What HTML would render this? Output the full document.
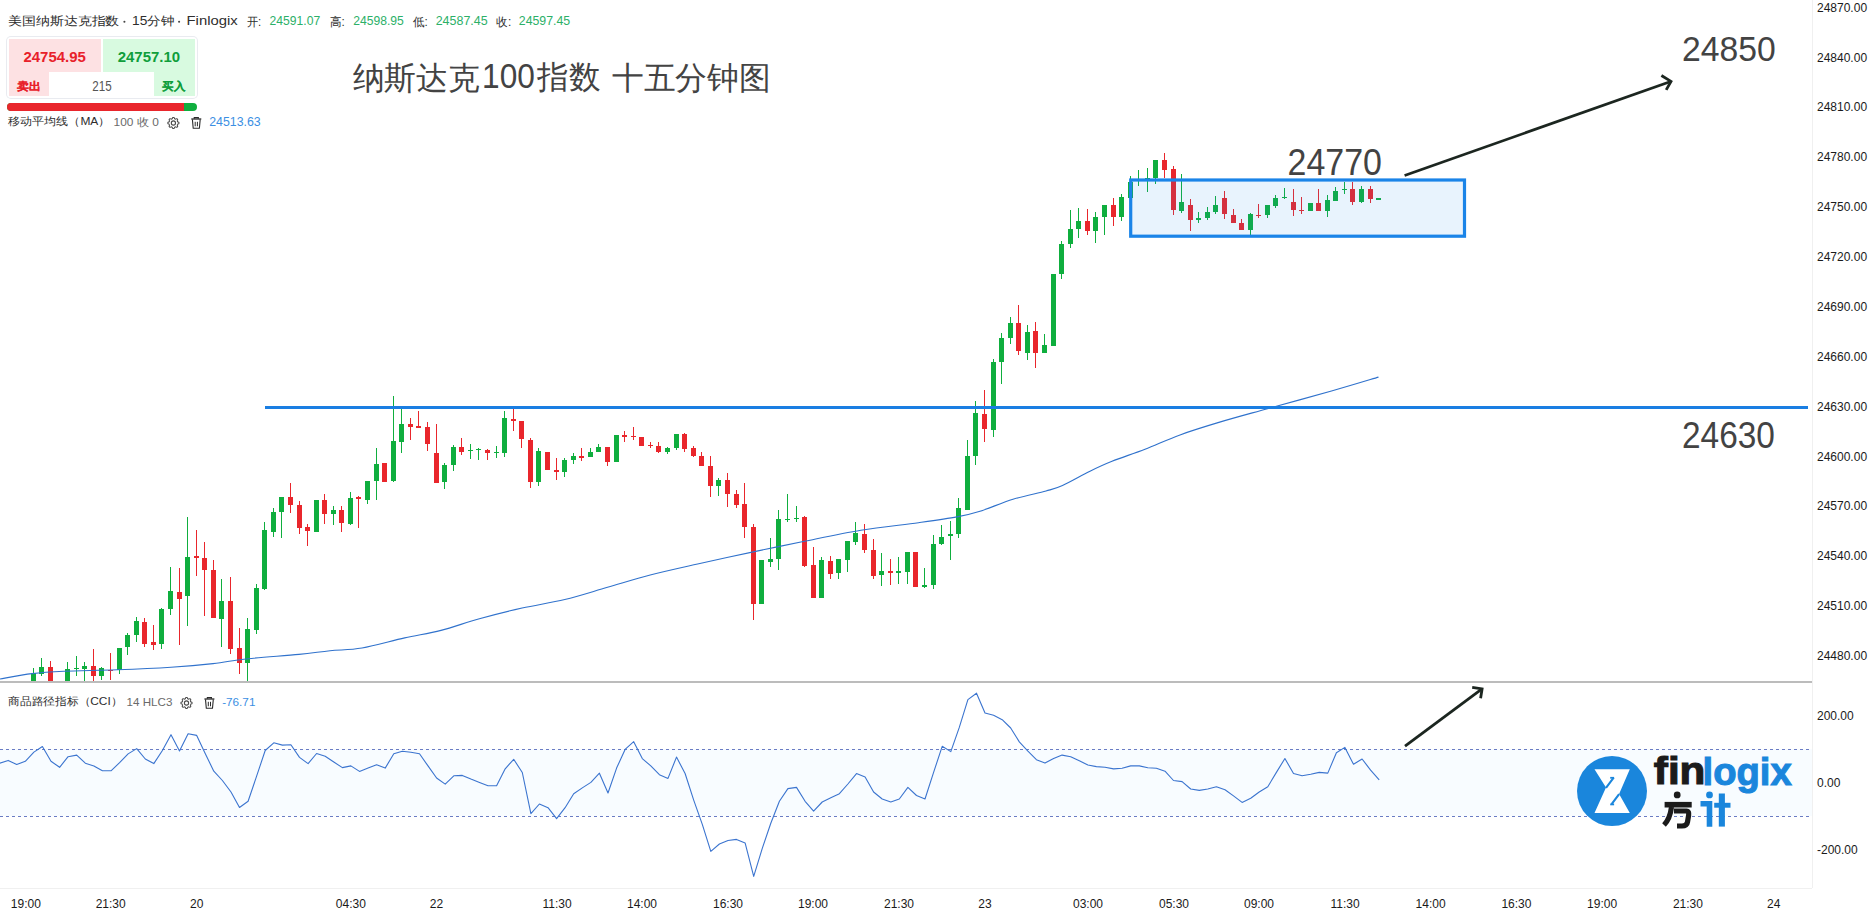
<!DOCTYPE html>
<html><head><meta charset="utf-8">
<style>
html,body{margin:0;padding:0;background:#fff;}
body{width:1874px;height:909px;overflow:hidden;position:relative;font-family:"Liberation Sans",sans-serif;color:#131722;}
svg{position:absolute;left:0;top:0;font-family:"Liberation Sans",sans-serif;}
.pl{position:absolute;left:1817px;font-size:12px;line-height:14px;color:#1a1a1a;}
.tl{position:absolute;top:897px;width:80px;text-align:center;font-size:12px;line-height:14px;color:#1a1a1a;}
.w{position:absolute;left:7px;top:37px;width:190px;height:61px;border-radius:4px;box-shadow:0 0 0 1px #e9ebf0;background:#fff;}
.wr{position:absolute;left:2px;top:2px;width:92px;height:57px;background:#fde1e3;}
.wg{position:absolute;left:96px;top:2px;width:92px;height:57px;background:#d8fae0;}
.wi{position:absolute;left:42px;top:35px;width:105px;height:25px;background:#fff;}
.bar{position:absolute;left:7px;top:103px;width:190px;height:8px;border-radius:4px;background:#0fae3e;overflow:hidden;}
.bar div{position:absolute;left:0;top:0;width:177px;height:8px;background:#e9262c;}
</style></head><body>
<svg id="ch" width="1874" height="909"><defs><clipPath id="mp"><rect x="0" y="0" width="1812" height="681"/></clipPath><clipPath id="cp"><rect x="0" y="683" width="1812" height="205"/></clipPath></defs><g clip-path="url(#mp)"><rect x="33" y="668" width="1" height="14" fill="#0fae3e"/><rect x="31" y="673" width="5" height="9" fill="#0fae3e"/><rect x="41" y="658" width="1" height="18" fill="#0fae3e"/><rect x="39" y="667" width="5" height="7" fill="#0fae3e"/><rect x="50" y="661" width="1" height="21" fill="#e9262c"/><rect x="48" y="667" width="5" height="15" fill="#e9262c"/><rect x="67" y="662" width="1" height="20" fill="#0fae3e"/><rect x="65" y="669" width="5" height="13" fill="#0fae3e"/><rect x="76" y="656" width="1" height="20" fill="#0fae3e"/><rect x="74" y="668" width="5" height="1" fill="#0fae3e"/><rect x="84" y="662" width="1" height="20" fill="#0fae3e"/><rect x="82" y="666" width="5" height="3" fill="#0fae3e"/><rect x="93" y="649" width="1" height="32" fill="#e9262c"/><rect x="91" y="666" width="5" height="10" fill="#e9262c"/><rect x="101" y="667" width="1" height="13" fill="#0fae3e"/><rect x="99" y="668" width="5" height="8" fill="#0fae3e"/><rect x="110" y="653" width="1" height="27" fill="#e9262c"/><rect x="108" y="670" width="5" height="1" fill="#e9262c"/><rect x="119" y="648" width="1" height="26" fill="#0fae3e"/><rect x="117" y="648" width="5" height="22" fill="#0fae3e"/><rect x="127" y="633" width="1" height="22" fill="#0fae3e"/><rect x="125" y="635" width="5" height="12" fill="#0fae3e"/><rect x="136" y="617" width="1" height="25" fill="#0fae3e"/><rect x="134" y="621" width="5" height="14" fill="#0fae3e"/><rect x="144" y="618" width="1" height="29" fill="#e9262c"/><rect x="142" y="622" width="5" height="22" fill="#e9262c"/><rect x="153" y="625" width="1" height="25" fill="#e9262c"/><rect x="151" y="642" width="5" height="3" fill="#e9262c"/><rect x="161" y="608" width="1" height="41" fill="#0fae3e"/><rect x="159" y="609" width="5" height="35" fill="#0fae3e"/><rect x="170" y="567" width="1" height="48" fill="#0fae3e"/><rect x="168" y="591" width="5" height="18" fill="#0fae3e"/><rect x="179" y="568" width="1" height="77" fill="#e9262c"/><rect x="177" y="592" width="5" height="7" fill="#e9262c"/><rect x="187" y="517" width="1" height="109" fill="#0fae3e"/><rect x="185" y="557" width="5" height="39" fill="#0fae3e"/><rect x="196" y="530" width="1" height="46" fill="#e9262c"/><rect x="194" y="556" width="5" height="2" fill="#e9262c"/><rect x="204" y="542" width="1" height="74" fill="#e9262c"/><rect x="202" y="558" width="5" height="12" fill="#e9262c"/><rect x="213" y="560" width="1" height="58" fill="#e9262c"/><rect x="211" y="570" width="5" height="48" fill="#e9262c"/><rect x="221" y="579" width="1" height="68" fill="#0fae3e"/><rect x="219" y="601" width="5" height="18" fill="#0fae3e"/><rect x="230" y="577" width="1" height="77" fill="#e9262c"/><rect x="228" y="601" width="5" height="48" fill="#e9262c"/><rect x="239" y="628" width="1" height="46" fill="#e9262c"/><rect x="237" y="648" width="5" height="15" fill="#e9262c"/><rect x="247" y="618" width="1" height="64" fill="#0fae3e"/><rect x="245" y="629" width="5" height="34" fill="#0fae3e"/><rect x="256" y="584" width="1" height="50" fill="#0fae3e"/><rect x="254" y="588" width="5" height="42" fill="#0fae3e"/><rect x="264" y="522" width="1" height="68" fill="#0fae3e"/><rect x="262" y="530" width="5" height="59" fill="#0fae3e"/><rect x="273" y="508" width="1" height="29" fill="#0fae3e"/><rect x="271" y="512" width="5" height="20" fill="#0fae3e"/><rect x="281" y="497" width="1" height="41" fill="#0fae3e"/><rect x="279" y="497" width="5" height="15" fill="#0fae3e"/><rect x="290" y="483" width="1" height="30" fill="#e9262c"/><rect x="288" y="497" width="5" height="8" fill="#e9262c"/><rect x="299" y="501" width="1" height="33" fill="#e9262c"/><rect x="297" y="505" width="5" height="23" fill="#e9262c"/><rect x="307" y="524" width="1" height="22" fill="#e9262c"/><rect x="305" y="527" width="5" height="4" fill="#e9262c"/><rect x="316" y="500" width="1" height="32" fill="#0fae3e"/><rect x="314" y="500" width="5" height="32" fill="#0fae3e"/><rect x="324" y="494" width="1" height="30" fill="#e9262c"/><rect x="322" y="500" width="5" height="14" fill="#e9262c"/><rect x="333" y="506" width="1" height="19" fill="#0fae3e"/><rect x="331" y="510" width="5" height="4" fill="#0fae3e"/><rect x="341" y="506" width="1" height="26" fill="#e9262c"/><rect x="339" y="510" width="5" height="13" fill="#e9262c"/><rect x="350" y="492" width="1" height="33" fill="#0fae3e"/><rect x="348" y="498" width="5" height="26" fill="#0fae3e"/><rect x="358" y="496" width="1" height="32" fill="#e9262c"/><rect x="356" y="497" width="5" height="2" fill="#e9262c"/><rect x="367" y="481" width="1" height="23" fill="#0fae3e"/><rect x="365" y="481" width="5" height="19" fill="#0fae3e"/><rect x="376" y="448" width="1" height="52" fill="#0fae3e"/><rect x="374" y="464" width="5" height="17" fill="#0fae3e"/><rect x="384" y="463" width="1" height="19" fill="#e9262c"/><rect x="382" y="463" width="5" height="19" fill="#e9262c"/><rect x="393" y="396" width="1" height="86" fill="#0fae3e"/><rect x="391" y="441" width="5" height="40" fill="#0fae3e"/><rect x="401" y="408" width="1" height="45" fill="#0fae3e"/><rect x="399" y="424" width="5" height="18" fill="#0fae3e"/><rect x="410" y="418" width="1" height="22" fill="#e9262c"/><rect x="408" y="424" width="5" height="3" fill="#e9262c"/><rect x="418" y="411" width="1" height="17" fill="#e9262c"/><rect x="416" y="426" width="5" height="2" fill="#e9262c"/><rect x="427" y="422" width="1" height="29" fill="#e9262c"/><rect x="425" y="427" width="5" height="17" fill="#e9262c"/><rect x="436" y="424" width="1" height="59" fill="#e9262c"/><rect x="434" y="453" width="5" height="30" fill="#e9262c"/><rect x="444" y="463" width="1" height="26" fill="#0fae3e"/><rect x="442" y="465" width="5" height="17" fill="#0fae3e"/><rect x="453" y="445" width="1" height="26" fill="#0fae3e"/><rect x="451" y="447" width="5" height="18" fill="#0fae3e"/><rect x="461" y="438" width="1" height="17" fill="#e9262c"/><rect x="459" y="447" width="5" height="5" fill="#e9262c"/><rect x="470" y="444" width="1" height="15" fill="#0fae3e"/><rect x="468" y="450" width="5" height="1" fill="#0fae3e"/><rect x="478" y="448" width="1" height="12" fill="#0fae3e"/><rect x="476" y="449" width="5" height="1" fill="#0fae3e"/><rect x="487" y="449" width="1" height="11" fill="#e9262c"/><rect x="485" y="450" width="5" height="3" fill="#e9262c"/><rect x="496" y="446" width="1" height="12" fill="#0fae3e"/><rect x="494" y="452" width="5" height="1" fill="#0fae3e"/><rect x="504" y="411" width="1" height="46" fill="#0fae3e"/><rect x="502" y="418" width="5" height="35" fill="#0fae3e"/><rect x="513" y="408" width="1" height="23" fill="#e9262c"/><rect x="511" y="419" width="5" height="2" fill="#e9262c"/><rect x="521" y="421" width="1" height="27" fill="#e9262c"/><rect x="519" y="421" width="5" height="18" fill="#e9262c"/><rect x="530" y="438" width="1" height="50" fill="#e9262c"/><rect x="528" y="440" width="5" height="42" fill="#e9262c"/><rect x="538" y="448" width="1" height="38" fill="#0fae3e"/><rect x="536" y="451" width="5" height="31" fill="#0fae3e"/><rect x="547" y="452" width="1" height="18" fill="#e9262c"/><rect x="545" y="452" width="5" height="18" fill="#e9262c"/><rect x="556" y="458" width="1" height="22" fill="#e9262c"/><rect x="554" y="470" width="5" height="2" fill="#e9262c"/><rect x="564" y="458" width="1" height="19" fill="#0fae3e"/><rect x="562" y="460" width="5" height="12" fill="#0fae3e"/><rect x="573" y="453" width="1" height="11" fill="#0fae3e"/><rect x="571" y="456" width="5" height="4" fill="#0fae3e"/><rect x="581" y="448" width="1" height="13" fill="#e9262c"/><rect x="579" y="456" width="5" height="2" fill="#e9262c"/><rect x="590" y="448" width="1" height="9" fill="#0fae3e"/><rect x="588" y="452" width="5" height="5" fill="#0fae3e"/><rect x="598" y="444" width="1" height="8" fill="#0fae3e"/><rect x="596" y="447" width="5" height="5" fill="#0fae3e"/><rect x="607" y="447" width="1" height="19" fill="#e9262c"/><rect x="605" y="447" width="5" height="15" fill="#e9262c"/><rect x="616" y="435" width="1" height="27" fill="#0fae3e"/><rect x="614" y="435" width="5" height="27" fill="#0fae3e"/><rect x="624" y="431" width="1" height="11" fill="#e9262c"/><rect x="622" y="435" width="5" height="2" fill="#e9262c"/><rect x="633" y="427" width="1" height="13" fill="#e9262c"/><rect x="631" y="436" width="5" height="1" fill="#e9262c"/><rect x="641" y="437" width="1" height="9" fill="#e9262c"/><rect x="639" y="437" width="5" height="9" fill="#e9262c"/><rect x="650" y="442" width="1" height="6" fill="#e9262c"/><rect x="648" y="445" width="5" height="1" fill="#e9262c"/><rect x="658" y="442" width="1" height="11" fill="#e9262c"/><rect x="656" y="446" width="5" height="6" fill="#e9262c"/><rect x="667" y="447" width="1" height="7" fill="#0fae3e"/><rect x="665" y="448" width="5" height="4" fill="#0fae3e"/><rect x="676" y="434" width="1" height="16" fill="#0fae3e"/><rect x="674" y="434" width="5" height="14" fill="#0fae3e"/><rect x="684" y="433" width="1" height="19" fill="#e9262c"/><rect x="682" y="434" width="5" height="15" fill="#e9262c"/><rect x="693" y="446" width="1" height="11" fill="#e9262c"/><rect x="691" y="448" width="5" height="8" fill="#e9262c"/><rect x="701" y="452" width="1" height="14" fill="#e9262c"/><rect x="699" y="456" width="5" height="10" fill="#e9262c"/><rect x="710" y="456" width="1" height="41" fill="#e9262c"/><rect x="708" y="466" width="5" height="20" fill="#e9262c"/><rect x="718" y="478" width="1" height="18" fill="#0fae3e"/><rect x="716" y="480" width="5" height="6" fill="#0fae3e"/><rect x="727" y="473" width="1" height="34" fill="#e9262c"/><rect x="725" y="480" width="5" height="14" fill="#e9262c"/><rect x="736" y="490" width="1" height="18" fill="#e9262c"/><rect x="734" y="494" width="5" height="11" fill="#e9262c"/><rect x="744" y="483" width="1" height="55" fill="#e9262c"/><rect x="742" y="504" width="5" height="23" fill="#e9262c"/><rect x="753" y="524" width="1" height="96" fill="#e9262c"/><rect x="751" y="527" width="5" height="77" fill="#e9262c"/><rect x="761" y="560" width="1" height="44" fill="#0fae3e"/><rect x="759" y="560" width="5" height="44" fill="#0fae3e"/><rect x="770" y="538" width="1" height="29" fill="#0fae3e"/><rect x="768" y="559" width="5" height="3" fill="#0fae3e"/><rect x="778" y="510" width="1" height="60" fill="#0fae3e"/><rect x="776" y="519" width="5" height="40" fill="#0fae3e"/><rect x="787" y="494" width="1" height="28" fill="#0fae3e"/><rect x="785" y="519" width="5" height="1" fill="#0fae3e"/><rect x="796" y="506" width="1" height="16" fill="#0fae3e"/><rect x="794" y="518" width="5" height="1" fill="#0fae3e"/><rect x="804" y="516" width="1" height="51" fill="#e9262c"/><rect x="802" y="517" width="5" height="49" fill="#e9262c"/><rect x="813" y="547" width="1" height="51" fill="#e9262c"/><rect x="811" y="565" width="5" height="33" fill="#e9262c"/><rect x="821" y="557" width="1" height="41" fill="#0fae3e"/><rect x="819" y="560" width="5" height="38" fill="#0fae3e"/><rect x="830" y="556" width="1" height="23" fill="#e9262c"/><rect x="828" y="561" width="5" height="13" fill="#e9262c"/><rect x="838" y="559" width="1" height="20" fill="#0fae3e"/><rect x="836" y="559" width="5" height="14" fill="#0fae3e"/><rect x="847" y="541" width="1" height="31" fill="#0fae3e"/><rect x="845" y="541" width="5" height="19" fill="#0fae3e"/><rect x="855" y="522" width="1" height="23" fill="#0fae3e"/><rect x="853" y="533" width="5" height="9" fill="#0fae3e"/><rect x="864" y="524" width="1" height="29" fill="#e9262c"/><rect x="862" y="534" width="5" height="16" fill="#e9262c"/><rect x="873" y="539" width="1" height="40" fill="#e9262c"/><rect x="871" y="550" width="5" height="26" fill="#e9262c"/><rect x="881" y="553" width="1" height="33" fill="#0fae3e"/><rect x="879" y="571" width="5" height="4" fill="#0fae3e"/><rect x="890" y="559" width="1" height="26" fill="#e9262c"/><rect x="888" y="571" width="5" height="2" fill="#e9262c"/><rect x="898" y="557" width="1" height="27" fill="#0fae3e"/><rect x="896" y="571" width="5" height="2" fill="#0fae3e"/><rect x="907" y="552" width="1" height="32" fill="#0fae3e"/><rect x="905" y="552" width="5" height="20" fill="#0fae3e"/><rect x="915" y="552" width="1" height="35" fill="#e9262c"/><rect x="913" y="552" width="5" height="35" fill="#e9262c"/><rect x="924" y="568" width="1" height="20" fill="#0fae3e"/><rect x="922" y="585" width="5" height="2" fill="#0fae3e"/><rect x="933" y="535" width="1" height="54" fill="#0fae3e"/><rect x="931" y="544" width="5" height="41" fill="#0fae3e"/><rect x="941" y="525" width="1" height="20" fill="#0fae3e"/><rect x="939" y="537" width="5" height="7" fill="#0fae3e"/><rect x="950" y="521" width="1" height="39" fill="#0fae3e"/><rect x="948" y="534" width="5" height="2" fill="#0fae3e"/><rect x="958" y="498" width="1" height="40" fill="#0fae3e"/><rect x="956" y="508" width="5" height="26" fill="#0fae3e"/><rect x="967" y="440" width="1" height="70" fill="#0fae3e"/><rect x="965" y="456" width="5" height="54" fill="#0fae3e"/><rect x="975" y="401" width="1" height="64" fill="#0fae3e"/><rect x="973" y="413" width="5" height="43" fill="#0fae3e"/><rect x="984" y="390" width="1" height="52" fill="#e9262c"/><rect x="982" y="414" width="5" height="15" fill="#e9262c"/><rect x="993" y="359" width="1" height="78" fill="#0fae3e"/><rect x="991" y="362" width="5" height="68" fill="#0fae3e"/><rect x="1001" y="333" width="1" height="51" fill="#0fae3e"/><rect x="999" y="338" width="5" height="24" fill="#0fae3e"/><rect x="1010" y="317" width="1" height="27" fill="#0fae3e"/><rect x="1008" y="323" width="5" height="15" fill="#0fae3e"/><rect x="1018" y="305" width="1" height="50" fill="#e9262c"/><rect x="1016" y="323" width="5" height="28" fill="#e9262c"/><rect x="1027" y="325" width="1" height="35" fill="#0fae3e"/><rect x="1025" y="332" width="5" height="21" fill="#0fae3e"/><rect x="1035" y="322" width="1" height="46" fill="#e9262c"/><rect x="1033" y="331" width="5" height="22" fill="#e9262c"/><rect x="1044" y="334" width="1" height="19" fill="#0fae3e"/><rect x="1042" y="345" width="5" height="8" fill="#0fae3e"/><rect x="1053" y="274" width="1" height="72" fill="#0fae3e"/><rect x="1051" y="274" width="5" height="72" fill="#0fae3e"/><rect x="1061" y="241" width="1" height="38" fill="#0fae3e"/><rect x="1059" y="244" width="5" height="30" fill="#0fae3e"/><rect x="1070" y="210" width="1" height="38" fill="#0fae3e"/><rect x="1068" y="229" width="5" height="15" fill="#0fae3e"/><rect x="1078" y="208" width="1" height="30" fill="#0fae3e"/><rect x="1076" y="221" width="5" height="8" fill="#0fae3e"/><rect x="1087" y="209" width="1" height="26" fill="#e9262c"/><rect x="1085" y="221" width="5" height="10" fill="#e9262c"/><rect x="1095" y="212" width="1" height="31" fill="#0fae3e"/><rect x="1093" y="217" width="5" height="14" fill="#0fae3e"/><rect x="1104" y="205" width="1" height="30" fill="#0fae3e"/><rect x="1102" y="205" width="5" height="12" fill="#0fae3e"/><rect x="1113" y="198" width="1" height="28" fill="#e9262c"/><rect x="1111" y="205" width="5" height="12" fill="#e9262c"/><rect x="1121" y="194" width="1" height="27" fill="#0fae3e"/><rect x="1119" y="197" width="5" height="20" fill="#0fae3e"/><rect x="1130" y="176" width="1" height="22" fill="#0fae3e"/><rect x="1128" y="182" width="5" height="16" fill="#0fae3e"/><rect x="1138" y="170" width="1" height="16" fill="#0fae3e"/><rect x="1136" y="179" width="5" height="2" fill="#0fae3e"/><rect x="1147" y="168" width="1" height="24" fill="#0fae3e"/><rect x="1145" y="178" width="5" height="1" fill="#0fae3e"/><rect x="1155" y="160" width="1" height="24" fill="#0fae3e"/><rect x="1153" y="160" width="5" height="18" fill="#0fae3e"/><rect x="1164" y="153" width="1" height="25" fill="#e9262c"/><rect x="1162" y="160" width="5" height="10" fill="#e9262c"/><rect x="1173" y="166" width="1" height="49" fill="#e9262c"/><rect x="1171" y="169" width="5" height="41" fill="#e9262c"/><rect x="1181" y="174" width="1" height="39" fill="#0fae3e"/><rect x="1179" y="202" width="5" height="9" fill="#0fae3e"/><rect x="1190" y="199" width="1" height="32" fill="#e9262c"/><rect x="1188" y="205" width="5" height="15" fill="#e9262c"/><rect x="1198" y="212" width="1" height="11" fill="#0fae3e"/><rect x="1196" y="218" width="5" height="2" fill="#0fae3e"/><rect x="1207" y="207" width="1" height="13" fill="#0fae3e"/><rect x="1205" y="212" width="5" height="6" fill="#0fae3e"/><rect x="1215" y="196" width="1" height="18" fill="#0fae3e"/><rect x="1213" y="205" width="5" height="7" fill="#0fae3e"/><rect x="1224" y="191" width="1" height="28" fill="#e9262c"/><rect x="1222" y="198" width="5" height="16" fill="#e9262c"/><rect x="1233" y="209" width="1" height="14" fill="#e9262c"/><rect x="1231" y="215" width="5" height="8" fill="#e9262c"/><rect x="1241" y="219" width="1" height="11" fill="#e9262c"/><rect x="1239" y="223" width="5" height="7" fill="#e9262c"/><rect x="1250" y="213" width="1" height="22" fill="#0fae3e"/><rect x="1248" y="214" width="5" height="16" fill="#0fae3e"/><rect x="1258" y="204" width="1" height="14" fill="#e9262c"/><rect x="1256" y="215" width="5" height="1" fill="#e9262c"/><rect x="1267" y="205" width="1" height="13" fill="#0fae3e"/><rect x="1265" y="205" width="5" height="10" fill="#0fae3e"/><rect x="1275" y="195" width="1" height="13" fill="#0fae3e"/><rect x="1273" y="198" width="5" height="8" fill="#0fae3e"/><rect x="1284" y="188" width="1" height="11" fill="#0fae3e"/><rect x="1282" y="197" width="5" height="1" fill="#0fae3e"/><rect x="1293" y="189" width="1" height="27" fill="#e9262c"/><rect x="1291" y="202" width="5" height="8" fill="#e9262c"/><rect x="1301" y="197" width="1" height="17" fill="#e9262c"/><rect x="1299" y="210" width="5" height="1" fill="#e9262c"/><rect x="1310" y="203" width="1" height="8" fill="#0fae3e"/><rect x="1308" y="203" width="5" height="8" fill="#0fae3e"/><rect x="1318" y="189" width="1" height="22" fill="#e9262c"/><rect x="1316" y="203" width="5" height="8" fill="#e9262c"/><rect x="1327" y="195" width="1" height="22" fill="#0fae3e"/><rect x="1325" y="200" width="5" height="11" fill="#0fae3e"/><rect x="1335" y="187" width="1" height="14" fill="#0fae3e"/><rect x="1333" y="191" width="5" height="10" fill="#0fae3e"/><rect x="1344" y="182" width="1" height="12" fill="#0fae3e"/><rect x="1342" y="189" width="5" height="1" fill="#0fae3e"/><rect x="1352" y="182" width="1" height="23" fill="#e9262c"/><rect x="1350" y="189" width="5" height="13" fill="#e9262c"/><rect x="1361" y="186" width="1" height="17" fill="#0fae3e"/><rect x="1359" y="189" width="5" height="13" fill="#0fae3e"/><rect x="1370" y="186" width="1" height="17" fill="#e9262c"/><rect x="1368" y="189" width="5" height="10" fill="#e9262c"/><rect x="1378" y="198" width="1" height="2" fill="#0fae3e"/><rect x="1376" y="198" width="5" height="2" fill="#0fae3e"/><path d="M0.00,679.00 C5.33,678.10 21.33,674.88 32.00,673.60 C42.67,672.32 49.83,671.93 64.00,671.30 C78.17,670.67 99.17,670.48 117.00,669.80 C134.83,669.12 155.00,668.23 171.00,667.20 C187.00,666.17 200.17,665.02 213.00,663.60 C225.83,662.18 233.67,660.23 248.00,658.70 C262.33,657.17 285.33,655.73 299.00,654.40 C312.67,653.07 319.50,651.77 330.00,650.70 C340.50,649.63 349.55,650.13 362.00,648.00 C374.45,645.87 391.53,640.83 404.70,637.90 C417.87,634.97 428.55,633.60 441.00,630.40 C453.45,627.20 465.88,622.43 479.40,618.70 C492.92,614.97 507.87,611.20 522.10,608.00 C536.33,604.80 550.57,602.95 564.80,599.50 C579.03,596.05 593.27,591.38 607.50,587.30 C621.73,583.22 635.18,578.88 650.20,575.00 C665.22,571.12 680.42,567.85 697.60,564.00 C714.78,560.15 735.68,555.65 753.30,551.90 C770.92,548.15 785.37,545.10 803.30,541.50 C821.23,537.90 841.70,533.43 860.90,530.30 C880.10,527.17 902.48,524.93 918.50,522.70 C934.52,520.47 946.75,518.80 957.00,516.90 C967.25,515.00 970.67,514.25 980.00,511.30 C989.33,508.35 1002.00,502.58 1013.00,499.20 C1024.00,495.82 1037.75,493.28 1046.00,491.00 C1054.25,488.72 1055.17,488.80 1062.50,485.50 C1069.83,482.20 1081.75,475.23 1090.00,471.20 C1098.25,467.17 1102.83,464.97 1112.00,461.30 C1121.17,457.63 1133.67,453.60 1145.00,449.20 C1156.33,444.80 1167.42,439.45 1180.00,434.90 C1192.58,430.35 1205.92,426.27 1220.50,421.90 C1235.08,417.53 1249.00,413.85 1267.50,408.70 C1286.00,403.55 1313.00,396.27 1331.50,391.00 C1350.00,385.73 1370.67,379.42 1378.50,377.10" fill="none" stroke="#3072cc" stroke-width="1.1"/></g><rect x="265" y="406" width="1543" height="3" fill="#1a7ee2"/><rect x="1130.7" y="180" width="333.8" height="56.2" fill="rgba(33,140,240,0.10)" stroke="#1a84e8" stroke-width="3.2"/><g stroke="#1c2620" stroke-width="2.8" fill="none" stroke-linecap="butt" stroke-linejoin="miter"><line x1="1404.6" y1="175.5" x2="1670" y2="81.8"/><polyline points="1661.4,75.5 1671,81.4 1666.2,89.9"/><line x1="1405" y1="746.2" x2="1481" y2="689.6"/><polyline points="1472.2,687.3 1482.1,688.8 1480.6,698.2"/></g><rect x="0" y="681" width="1812" height="2" fill="#bcbcbc"/><rect x="1812" y="0" width="1" height="888" fill="#f0f0f0"/><rect x="0" y="888" width="1812" height="1" fill="#f0f0f0"/><rect x="0" y="749" width="1812" height="67" fill="rgba(33,150,243,0.03)"/><line x1="0" y1="749.5" x2="1812" y2="749.5" stroke="#6a7cc4" stroke-width="1" stroke-dasharray="3 3"/><line x1="0" y1="816.5" x2="1812" y2="816.5" stroke="#6a7cc4" stroke-width="1" stroke-dasharray="3 3"/><g clip-path="url(#cp)"><polyline points="-0.4,763.2 8.2,760.4 16.7,764.5 25.3,761.3 33.9,752.1 42.4,746.5 51.0,761.3 59.6,767.3 68.1,756.7 76.7,755.1 85.3,763.2 93.9,765.9 102.4,770.8 111.0,770.8 119.6,762.7 128.1,753.9 136.7,748.6 145.3,759.0 153.8,763.6 162.4,750.5 171.0,734.7 179.5,750.9 188.1,733.8 196.7,735.4 205.2,753.5 213.8,771.2 222.4,780.5 231.0,792.0 239.5,807.5 248.1,801.3 256.7,775.9 265.2,750.5 273.8,742.8 282.4,745.1 290.9,744.7 299.5,757.4 308.1,763.6 316.6,753.5 325.2,756.2 333.8,762.0 342.4,767.6 350.9,765.9 359.5,771.4 368.1,768.1 376.6,764.8 385.2,768.1 393.8,753.8 402.3,751.2 410.9,752.3 419.5,753.8 428.0,765.9 436.6,778.0 445.2,784.1 453.8,775.8 462.3,775.4 470.9,779.1 479.5,782.4 488.0,785.7 496.6,785.7 505.2,768.8 513.7,759.3 522.3,772.5 530.9,813.6 539.4,804.0 548.0,807.7 556.6,818.7 565.1,807.7 573.7,793.8 582.3,787.9 590.9,782.4 599.4,773.2 608.0,793.0 616.6,768.1 625.1,749.4 633.7,741.7 642.3,758.6 650.8,765.9 659.4,774.7 668.0,778.4 676.5,757.1 685.1,773.5 693.7,800.1 702.3,824.4 710.8,851.4 719.4,844.0 728.0,840.5 736.5,839.4 745.1,842.9 753.7,876.4 762.2,848.6 770.8,823.2 779.4,801.3 787.9,788.6 796.5,787.4 805.1,801.3 813.6,811.2 822.2,802.0 830.8,797.8 839.4,793.7 847.9,784.0 856.5,773.6 865.1,777.0 873.6,792.0 882.2,799.0 890.8,802.0 899.3,799.0 907.9,787.4 916.5,795.5 925.0,799.0 933.6,772.4 942.2,746.3 950.8,751.6 959.3,727.4 967.9,699.6 976.5,693.2 985.0,713.0 993.6,715.3 1002.2,719.7 1010.7,728.0 1019.3,741.9 1027.9,751.1 1036.4,759.7 1045.0,763.1 1053.6,758.5 1062.1,755.1 1070.7,756.7 1079.3,760.8 1087.9,765.0 1096.4,766.6 1105.0,767.3 1113.6,768.9 1122.1,768.2 1130.7,765.9 1139.3,765.9 1147.8,767.8 1156.4,768.2 1165.0,771.2 1173.5,780.5 1182.1,781.6 1190.7,789.0 1199.3,790.4 1207.8,789.0 1216.4,786.7 1225.0,789.7 1233.5,795.9 1242.1,802.4 1250.7,798.2 1259.2,792.0 1267.8,786.7 1276.4,772.4 1284.9,758.5 1293.5,773.5 1302.1,775.8 1310.7,774.2 1319.2,772.4 1327.8,773.1 1336.4,752.7 1344.9,747.4 1353.5,764.3 1362.1,759.0 1370.6,770.1 1379.2,779.8" fill="none" stroke="#3b74cf" stroke-width="1.1" stroke-linejoin="round"/></g></svg>
<div class="w"><div class="wr"></div><div class="wg"></div><div class="wi"></div></div>
<div class="bar"><div></div></div>
<div class="pl" style="top:0.7px">24870.00</div><div class="pl" style="top:50.6px">24840.00</div><div class="pl" style="top:100.4px">24810.00</div><div class="pl" style="top:150.3px">24780.00</div><div class="pl" style="top:200.2px">24750.00</div><div class="pl" style="top:250.1px">24720.00</div><div class="pl" style="top:299.9px">24690.00</div><div class="pl" style="top:349.8px">24660.00</div><div class="pl" style="top:399.7px">24630.00</div><div class="pl" style="top:449.5px">24600.00</div><div class="pl" style="top:499.4px">24570.00</div><div class="pl" style="top:549.3px">24540.00</div><div class="pl" style="top:599.1px">24510.00</div><div class="pl" style="top:649.0px">24480.00</div><div class="pl" style="top:709.0px">200.00</div><div class="pl" style="top:776.0px">0.00</div><div class="pl" style="top:843.0px">-200.00</div>
<div class="tl" style="left:-14.2px">19:00</div><div class="tl" style="left:70.7px">21:30</div><div class="tl" style="left:156.7px">20</div><div class="tl" style="left:310.8px">04:30</div><div class="tl" style="left:396.5px">22</div><div class="tl" style="left:517.0px">11:30</div><div class="tl" style="left:602.0px">14:00</div><div class="tl" style="left:688.0px">16:30</div><div class="tl" style="left:773.0px">19:00</div><div class="tl" style="left:859.0px">21:30</div><div class="tl" style="left:945.0px">23</div><div class="tl" style="left:1048.0px">03:00</div><div class="tl" style="left:1134.0px">05:30</div><div class="tl" style="left:1219.0px">09:00</div><div class="tl" style="left:1305.0px">11:30</div><div class="tl" style="left:1390.6px">14:00</div><div class="tl" style="left:1476.4px">16:30</div><div class="tl" style="left:1562.1px">19:00</div><div class="tl" style="left:1647.9px">21:30</div><div class="tl" style="left:1733.7px">24</div>
<svg id="tx" width="1874" height="909"><text x="8.00" y="24.61" font-size="12.19" fill="#2e2e2e" font-weight="normal" textLength="111.41" lengthAdjust="spacingAndGlyphs">美国纳斯达克指数</text><text x="132.00" y="24.61" font-size="12.19" fill="#2e2e2e" font-weight="normal" textLength="42.33" lengthAdjust="spacingAndGlyphs">15分钟</text><text x="186.56" y="25.08" font-size="12.60" fill="#2e2e2e" font-weight="normal" textLength="51.13" lengthAdjust="spacingAndGlyphs">Finlogix</text><text x="246.92" y="26.06" font-size="12.20" fill="#2e2e2e" font-weight="normal" textLength="14.36" lengthAdjust="spacingAndGlyphs">开:</text><text x="269.60" y="25.15" font-size="12.17" fill="#2cb068" font-weight="normal" textLength="50.54" lengthAdjust="spacingAndGlyphs">24591.07</text><text x="330.06" y="25.66" font-size="12.20" fill="#2e2e2e" font-weight="normal" textLength="14.82" lengthAdjust="spacingAndGlyphs">高:</text><text x="353.29" y="25.15" font-size="12.17" fill="#2cb068" font-weight="normal" textLength="50.56" lengthAdjust="spacingAndGlyphs">24598.95</text><text x="413.06" y="25.66" font-size="12.20" fill="#2e2e2e" font-weight="normal" textLength="14.82" lengthAdjust="spacingAndGlyphs">低:</text><text x="435.69" y="25.15" font-size="12.17" fill="#2cb068" font-weight="normal" textLength="51.97" lengthAdjust="spacingAndGlyphs">24587.45</text><text x="496.47" y="25.66" font-size="12.20" fill="#2e2e2e" font-weight="normal" textLength="14.89" lengthAdjust="spacingAndGlyphs">收:</text><text x="518.79" y="25.15" font-size="12.17" fill="#2cb068" font-weight="normal" textLength="51.37" lengthAdjust="spacingAndGlyphs">24597.45</text><text x="23.49" y="62.09" font-size="14.91" fill="#e8202a" font-weight="bold" textLength="62.40" lengthAdjust="spacingAndGlyphs">24754.95</text><text x="117.70" y="62.09" font-size="14.91" fill="#0f9e3b" font-weight="bold" textLength="62.39" lengthAdjust="spacingAndGlyphs">24757.10</text><text x="17.17" y="89.68" font-size="10.60" fill="#e8202a" font-weight="bold" textLength="23.90" lengthAdjust="spacingAndGlyphs" stroke="#e8202a" stroke-width="0.2">卖出</text><text x="92.30" y="90.82" font-size="13.95" fill="#555555" font-weight="normal" textLength="19.37" lengthAdjust="spacingAndGlyphs">215</text><text x="162.15" y="89.68" font-size="10.60" fill="#0f9e3b" font-weight="bold" textLength="22.83" lengthAdjust="spacingAndGlyphs" stroke="#0f9e3b" stroke-width="0.2">买入</text><text x="8.30" y="125.19" font-size="10.94" fill="#2e2e2e" font-weight="normal" textLength="102.02" lengthAdjust="spacingAndGlyphs">移动平均线（MA）</text><text x="113.60" y="125.90" font-size="10.80" fill="#6a6a6a" font-weight="normal" textLength="45.19" lengthAdjust="spacingAndGlyphs">100 收 0</text><text x="209.19" y="126.15" font-size="12.17" fill="#3b8fe3" font-weight="normal" textLength="51.55" lengthAdjust="spacingAndGlyphs">24513.63</text><text x="8.30" y="705.42" font-size="11.19" fill="#2e2e2e" font-weight="normal" textLength="114.13" lengthAdjust="spacingAndGlyphs">商品路径指标（CCI）</text><text x="126.59" y="706.16" font-size="11.10" fill="#6a6a6a" font-weight="normal" textLength="45.81" lengthAdjust="spacingAndGlyphs">14 HLC3</text><text x="222.17" y="706.16" font-size="11.10" fill="#3b8fe3" font-weight="normal" textLength="33.27" lengthAdjust="spacingAndGlyphs">-76.71</text><text x="352.52" y="89.03" font-size="32.20" fill="#434343" font-weight="normal" textLength="127.00" lengthAdjust="spacingAndGlyphs">纳斯达克</text><text x="482.05" y="88.29" font-size="34.67" fill="#434343" font-weight="normal" textLength="52.75" lengthAdjust="spacingAndGlyphs">100</text><text x="537.01" y="87.55" font-size="32.10" fill="#434343" font-weight="normal" textLength="63.23" lengthAdjust="spacingAndGlyphs">指数</text><text x="611.79" y="88.56" font-size="32.10" fill="#434343" font-weight="normal" textLength="159.10" lengthAdjust="spacingAndGlyphs">十五分钟图</text><text x="1681.97" y="60.94" font-size="35.27" fill="#434343" font-weight="normal" textLength="93.78" lengthAdjust="spacingAndGlyphs">24850</text><text x="1287.58" y="175.35" font-size="36.18" fill="#434343" font-weight="normal" textLength="94.41" lengthAdjust="spacingAndGlyphs">24770</text><text x="1681.99" y="447.98" font-size="36.18" fill="#434343" font-weight="normal" textLength="92.97" lengthAdjust="spacingAndGlyphs">24630</text><text x="1653.84" y="783.64" font-size="38.80" fill="#1b1b1b" font-weight="bold" textLength="51.60" lengthAdjust="spacingAndGlyphs" stroke="#1b1b1b" stroke-width="1.1">fin</text><text x="1702.59" y="784.78" font-size="39.63" fill="#1a86dc" font-weight="bold" textLength="89.10" lengthAdjust="spacingAndGlyphs" stroke="#1a86dc" stroke-width="1.1">logix</text><circle cx="124.4" cy="21.7" r="1.05" fill="#444"/><circle cx="179.1" cy="21.7" r="1.05" fill="#444"/><polygon points="178.95,123.00 178.94,123.27 178.92,123.54 178.66,123.78 178.25,123.97 177.85,124.11 177.56,124.26 177.50,124.47 177.42,124.66 177.33,124.86 177.24,125.05 177.33,125.36 177.52,125.75 177.67,126.17 177.69,126.52 177.51,126.73 177.32,126.92 177.13,127.11 176.92,127.29 176.57,127.27 176.15,127.12 175.76,126.93 175.45,126.84 175.26,126.93 175.06,127.02 174.87,127.10 174.66,127.16 174.51,127.45 174.37,127.85 174.18,128.26 173.94,128.52 173.67,128.54 173.40,128.55 173.13,128.54 172.86,128.52 172.62,128.26 172.43,127.85 172.29,127.45 172.14,127.16 171.93,127.10 171.74,127.02 171.54,126.93 171.35,126.84 171.04,126.93 170.65,127.12 170.23,127.27 169.88,127.29 169.67,127.11 169.48,126.92 169.29,126.73 169.11,126.52 169.13,126.17 169.28,125.75 169.47,125.36 169.56,125.05 169.47,124.86 169.38,124.66 169.30,124.47 169.24,124.26 168.95,124.11 168.55,123.97 168.14,123.78 167.88,123.54 167.86,123.27 167.85,123.00 167.86,122.73 167.88,122.46 168.14,122.22 168.55,122.03 168.95,121.89 169.24,121.74 169.30,121.53 169.38,121.34 169.47,121.14 169.56,120.95 169.47,120.64 169.28,120.25 169.13,119.83 169.11,119.48 169.29,119.27 169.48,119.08 169.67,118.89 169.88,118.71 170.23,118.73 170.65,118.88 171.04,119.07 171.35,119.16 171.54,119.07 171.74,118.98 171.93,118.90 172.14,118.84 172.29,118.55 172.43,118.15 172.62,117.74 172.86,117.48 173.13,117.46 173.40,117.45 173.67,117.46 173.94,117.48 174.18,117.74 174.37,118.15 174.51,118.55 174.66,118.84 174.87,118.90 175.06,118.98 175.26,119.07 175.45,119.16 175.76,119.07 176.15,118.88 176.57,118.73 176.92,118.71 177.13,118.89 177.32,119.08 177.51,119.27 177.69,119.48 177.67,119.83 177.52,120.25 177.33,120.64 177.24,120.95 177.33,121.14 177.42,121.34 177.50,121.53 177.56,121.74 177.85,121.89 178.25,122.03 178.66,122.22 178.92,122.46 178.94,122.73" fill="none" stroke="#4a4a4a" stroke-width="1.05" stroke-linejoin="round"/><circle cx="173.4" cy="123.0" r="2.1" fill="none" stroke="#4a4a4a" stroke-width="1.1"/><path d="M191.3,119.0 H201.3" stroke="#2a2a2a" stroke-width="1.3"/><path d="M194.3,118.8 V117.6 H198.3 V118.8" fill="none" stroke="#2a2a2a" stroke-width="1.2"/><path d="M192.4,119.39999999999999 L193.20000000000002,128.3 H199.4 L200.20000000000002,119.39999999999999" fill="none" stroke="#2a2a2a" stroke-width="1.1" stroke-linejoin="round"/><path d="M195.20000000000002,121.8 V126.3 M197.4,121.8 V126.3" stroke="#2a2a2a" stroke-width="1"/><polygon points="192.05,703.00 192.04,703.27 192.02,703.54 191.76,703.78 191.35,703.97 190.95,704.11 190.66,704.26 190.60,704.47 190.52,704.66 190.43,704.86 190.34,705.05 190.43,705.36 190.62,705.75 190.77,706.17 190.79,706.52 190.61,706.73 190.42,706.92 190.23,707.11 190.02,707.29 189.67,707.27 189.25,707.12 188.86,706.93 188.55,706.84 188.36,706.93 188.16,707.02 187.97,707.10 187.76,707.16 187.61,707.45 187.47,707.85 187.28,708.26 187.04,708.52 186.77,708.54 186.50,708.55 186.23,708.54 185.96,708.52 185.72,708.26 185.53,707.85 185.39,707.45 185.24,707.16 185.03,707.10 184.84,707.02 184.64,706.93 184.45,706.84 184.14,706.93 183.75,707.12 183.33,707.27 182.98,707.29 182.77,707.11 182.58,706.92 182.39,706.73 182.21,706.52 182.23,706.17 182.38,705.75 182.57,705.36 182.66,705.05 182.57,704.86 182.48,704.66 182.40,704.47 182.34,704.26 182.05,704.11 181.65,703.97 181.24,703.78 180.98,703.54 180.96,703.27 180.95,703.00 180.96,702.73 180.98,702.46 181.24,702.22 181.65,702.03 182.05,701.89 182.34,701.74 182.40,701.53 182.48,701.34 182.57,701.14 182.66,700.95 182.57,700.64 182.38,700.25 182.23,699.83 182.21,699.48 182.39,699.27 182.58,699.08 182.77,698.89 182.98,698.71 183.33,698.73 183.75,698.88 184.14,699.07 184.45,699.16 184.64,699.07 184.84,698.98 185.03,698.90 185.24,698.84 185.39,698.55 185.53,698.15 185.72,697.74 185.96,697.48 186.23,697.46 186.50,697.45 186.77,697.46 187.04,697.48 187.28,697.74 187.47,698.15 187.61,698.55 187.76,698.84 187.97,698.90 188.16,698.98 188.36,699.07 188.55,699.16 188.86,699.07 189.25,698.88 189.67,698.73 190.02,698.71 190.23,698.89 190.42,699.08 190.61,699.27 190.79,699.48 190.77,699.83 190.62,700.25 190.43,700.64 190.34,700.95 190.43,701.14 190.52,701.34 190.60,701.53 190.66,701.74 190.95,701.89 191.35,702.03 191.76,702.22 192.02,702.46 192.04,702.73" fill="none" stroke="#4a4a4a" stroke-width="1.05" stroke-linejoin="round"/><circle cx="186.5" cy="703.0" r="2.1" fill="none" stroke="#4a4a4a" stroke-width="1.1"/><path d="M204.4,699.0 H214.4" stroke="#2a2a2a" stroke-width="1.3"/><path d="M207.4,698.8 V697.5999999999999 H211.4 V698.8" fill="none" stroke="#2a2a2a" stroke-width="1.2"/><path d="M205.5,699.4 L206.3,708.3 H212.5 L213.3,699.4" fill="none" stroke="#2a2a2a" stroke-width="1.1" stroke-linejoin="round"/><path d="M208.3,701.8 V706.3 M210.5,701.8 V706.3" stroke="#2a2a2a" stroke-width="1"/><circle cx="1612" cy="791.1" r="35" fill="#1a86dc"/><polygon points="1594.5,769.2 1629.8,769.2 1619.1,794 1629.8,813.1 1594.5,813.1 1606,787.4" fill="#fff"/><path d="M1613.7,777.7 L1606,787.9 M1619.1,794.1 L1611.6,804.2" stroke="#1a86dc" stroke-width="2.1"/><rect x="1610.2" y="776.9" width="3.9" height="1.8" fill="#1a86dc"/><rect x="1610.2" y="803.5" width="3.9" height="1.8" fill="#1a86dc"/><circle cx="1677.2" cy="794.9" r="3.4" fill="#1b1b1b"/><rect x="1664.6" y="801.9" width="27.1" height="5.6" fill="#1b1b1b"/><path d="M1671.5,807 C1670.5,815 1668,821 1664,825" fill="none" stroke="#1b1b1b" stroke-width="5.2"/><path d="M1674,811 H1686.5 C1688.5,811 1689,813 1688.6,815.5 L1687.5,822 C1687,825 1685,826 1682,826 H1677" fill="none" stroke="#1b1b1b" stroke-width="5.2"/><circle cx="1709.5" cy="794.9" r="3.4" fill="#1a86dc"/><path d="M1700.5,803.8 H1709.5 V826.8" fill="none" stroke="#1a86dc" stroke-width="5.6"/><rect x="1718.8" y="793.5" width="6.1" height="33.1" fill="#1a86dc"/><rect x="1714.2" y="802.8" width="16.3" height="4.9" fill="#1a86dc"/></svg>
</body></html>
